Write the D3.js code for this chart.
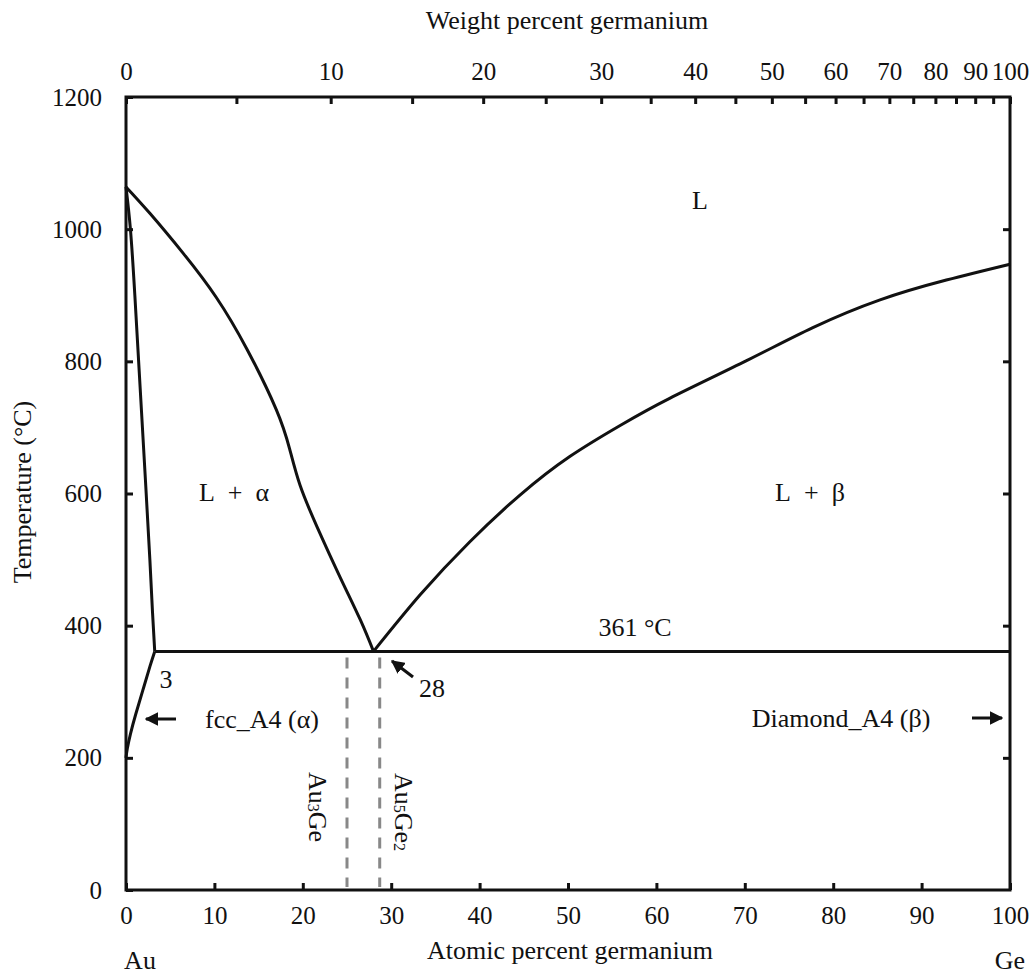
<!DOCTYPE html>
<html>
<head>
<meta charset="utf-8">
<script src="https://cdn.jsdelivr.net/npm/d3@7"></script>
<style>
  html, body { margin: 0; padding: 0; background: #fff; }
  svg { display: block; }
  text { font-family: "Liberation Serif", "Times New Roman", serif; fill: #111; }
</style>
</head>
<body>
<svg id="chart" width="1032" height="973"></svg>
<script>
// ---------- data (atomic % Ge, temperature °C) ----------
const liquidusAu = [[0,1064],[2.7,1024],[6.5,963],[10.2,897],[13.7,818],[17.0,727],[18.5,668],[19.7,612],[21.6,550],[24.2,474],[26.5,409],[28,361]];
const liquidusGe = [[28,361],[33.3,447],[38.9,527],[44.6,598],[50.2,656],[55.9,703],[61.5,744],[70.2,801],[77.7,851],[85.3,893],[92.8,923],[100,947]];
const solidusAu  = [[0,1064],[0.5,1000],[1.0,900],[1.6,760],[2.2,620],[2.7,500],[3.0,420],[3.25,361]];
const solvusAu   = [[3.25,361],[2.7,338],[1.9,302],[1.1,266],[0.5,236],[0.15,214],[0,200]];
const eutecticT  = [361];
const eutecticX  = [3.25, 100];
const compounds  = [{name:"Au", sub:"3", name2:"Ge", sub2:"", x:25.0}, {name:"Au", sub:"5", name2:"Ge", sub2:"2", x:28.7}];
const atTicks    = [0,10,20,30,40,50,60,70,80,90,100];
const tempTicks  = [0,200,400,600,800,1000,1200];
const wtTicks    = [0,5,10,15,20,25,30,35,40,45,50,55,60,65,70,75,80,85,90,95,100];
const wtLabels   = [0,10,20,30,40,50,60,70,80,90,100];
const massAu = 196.97, massGe = 72.63;

// ---------- layout ----------
const svg = d3.select("#chart");
const L = 126, R = 1010, T = 97, B = 890;
const x = d3.scaleLinear().domain([0,100]).range([L,R]);
const y = d3.scaleLinear().domain([0,1200]).range([B,T]);
const wtToAt = w => { const g = w/massGe, a = (100-w)/massAu; return 100*g/(g+a); };
const fontSize = 26, tickFont = 25;

// ---------- axes ----------
function styleAxis(g){
  g.select(".domain").remove();
  g.selectAll(".tick line").attr("stroke","#111").attr("stroke-width",3);
  g.selectAll(".tick text").style("font-family",'"Liberation Serif","Times New Roman",serif').style("font-size",tickFont+"px").attr("fill","#111");
}
svg.append("g").attr("transform",`translate(0,${B})`)
  .call(d3.axisBottom(x).tickValues(atTicks).tickSize(-7).tickPadding(16).tickFormat(d3.format("d")))
  .call(styleAxis);
svg.append("g").attr("transform",`translate(${L},0)`)
  .call(d3.axisLeft(y).tickValues(tempTicks).tickSize(-7).tickPadding(24).tickFormat(d3.format("d")))
  .call(styleAxis);
svg.append("g").attr("transform",`translate(${R},0)`)
  .call(d3.axisRight(y).tickValues(tempTicks.slice(1,-1)).tickSize(-7).tickFormat(""))
  .call(styleAxis);

// top axis: weight-percent ticks placed by converting to atomic percent
const wScale = (w) => x(wtToAt(w));
wScale.domain = () => [0,100];
wScale.range = () => [L,R];
wScale.copy = () => wScale;
wScale.ticks = () => wtTicks;
wScale.tickFormat = () => d3.format("d");
svg.append("g").attr("transform",`translate(0,${T})`)
  .call(d3.axisTop(wScale).tickValues(wtTicks).tickSize(-7).tickPadding(17)
        .tickFormat(d => wtLabels.includes(d) ? d3.format("d")(d) : ""))
  .call(styleAxis);

// frame
svg.append("rect").attr("x",L).attr("y",T).attr("width",R-L).attr("height",B-T)
  .attr("fill","none").attr("stroke","#111").attr("stroke-width",3);

// ---------- phase boundaries ----------
const line = d3.line().x(d=>x(d[0])).y(d=>y(d[1])).curve(d3.curveNatural);
[liquidusAu, liquidusGe, solidusAu, solvusAu].forEach(pts => {
  svg.append("path").attr("d", line(pts)).attr("fill","none").attr("stroke","#111").attr("stroke-width",3).attr("stroke-linejoin","round");
});
svg.append("line").attr("x1",x(eutecticX[0])).attr("x2",x(eutecticX[1]))
  .attr("y1",y(eutecticT[0])).attr("y2",y(eutecticT[0]))
  .attr("stroke","#111").attr("stroke-width",3);

// compound dashed lines
compounds.forEach(c => {
  svg.append("line").attr("x1",x(c.x)).attr("x2",x(c.x))
    .attr("y1",y(eutecticT[0])+6).attr("y2",B-3)
    .attr("stroke","#888").attr("stroke-width",3).attr("stroke-dasharray","11,9");
});

// compound labels (rotated)
function compoundLabel(c, px, py){
  const t = svg.append("text").attr("transform",`translate(${px},${py}) rotate(90)`)
    .attr("text-anchor","middle").attr("dominant-baseline","central").style("font-size",fontSize+"px");
  t.append("tspan").text(c.name);
  t.append("tspan").text(c.sub).attr("baseline-shift","-30%").style("font-size","16px");
  t.append("tspan").text(c.name2);
  if (c.sub2) t.append("tspan").text(c.sub2).attr("baseline-shift","-30%").style("font-size","16px");
}
compoundLabel(compounds[0], 318, 807);
compoundLabel(compounds[1], 404, 812);

// ---------- text labels ----------
function label(txt, px, py, anchor="middle", size=fontSize){
  svg.append("text").attr("x",px).attr("y",py).attr("text-anchor",anchor)
    .attr("dominant-baseline","central").style("font-size",size+"px").text(txt);
}
label("Weight percent germanium", 567, 20);
label("Atomic percent germanium", 570, 950);
label("Au", 140, 960);
label("Ge", 1010, 960);
label("L", 700, 200);
label("L\u2002+\u2002α", 234, 492);
label("L\u2002+\u2002β", 810, 492);
label("361 °C", 635, 627);
label("3", 166, 679);
label("28", 432, 688);
label("fcc_A4 (α)", 262, 719);
label("Diamond_A4 (β)", 841, 718);
svg.append("text").attr("transform","translate(22,492) rotate(-90)").attr("text-anchor","middle")
  .attr("dominant-baseline","central").style("font-size",fontSize+"px").text("Temperature (°C)");

// ---------- arrows ----------
const defs = svg.append("defs");
defs.append("marker").attr("id","ah").attr("viewBox","0 0 10 10").attr("refX",9).attr("refY",5)
  .attr("markerWidth",4.5).attr("markerHeight",4.5).attr("orient","auto-start-reverse")
  .append("path").attr("d","M0,0 L10,5 L0,10 z").attr("fill","#111");
function arrow(x1,y1,x2,y2){
  svg.append("line").attr("x1",x1).attr("y1",y1).attr("x2",x2).attr("y2",y2)
    .attr("stroke","#111").attr("stroke-width",3).attr("marker-end","url(#ah)");
}
arrow(413,677,392,661);
arrow(176,719,146,719);
arrow(972,718,1002,718);
</script>
</body>
</html>
